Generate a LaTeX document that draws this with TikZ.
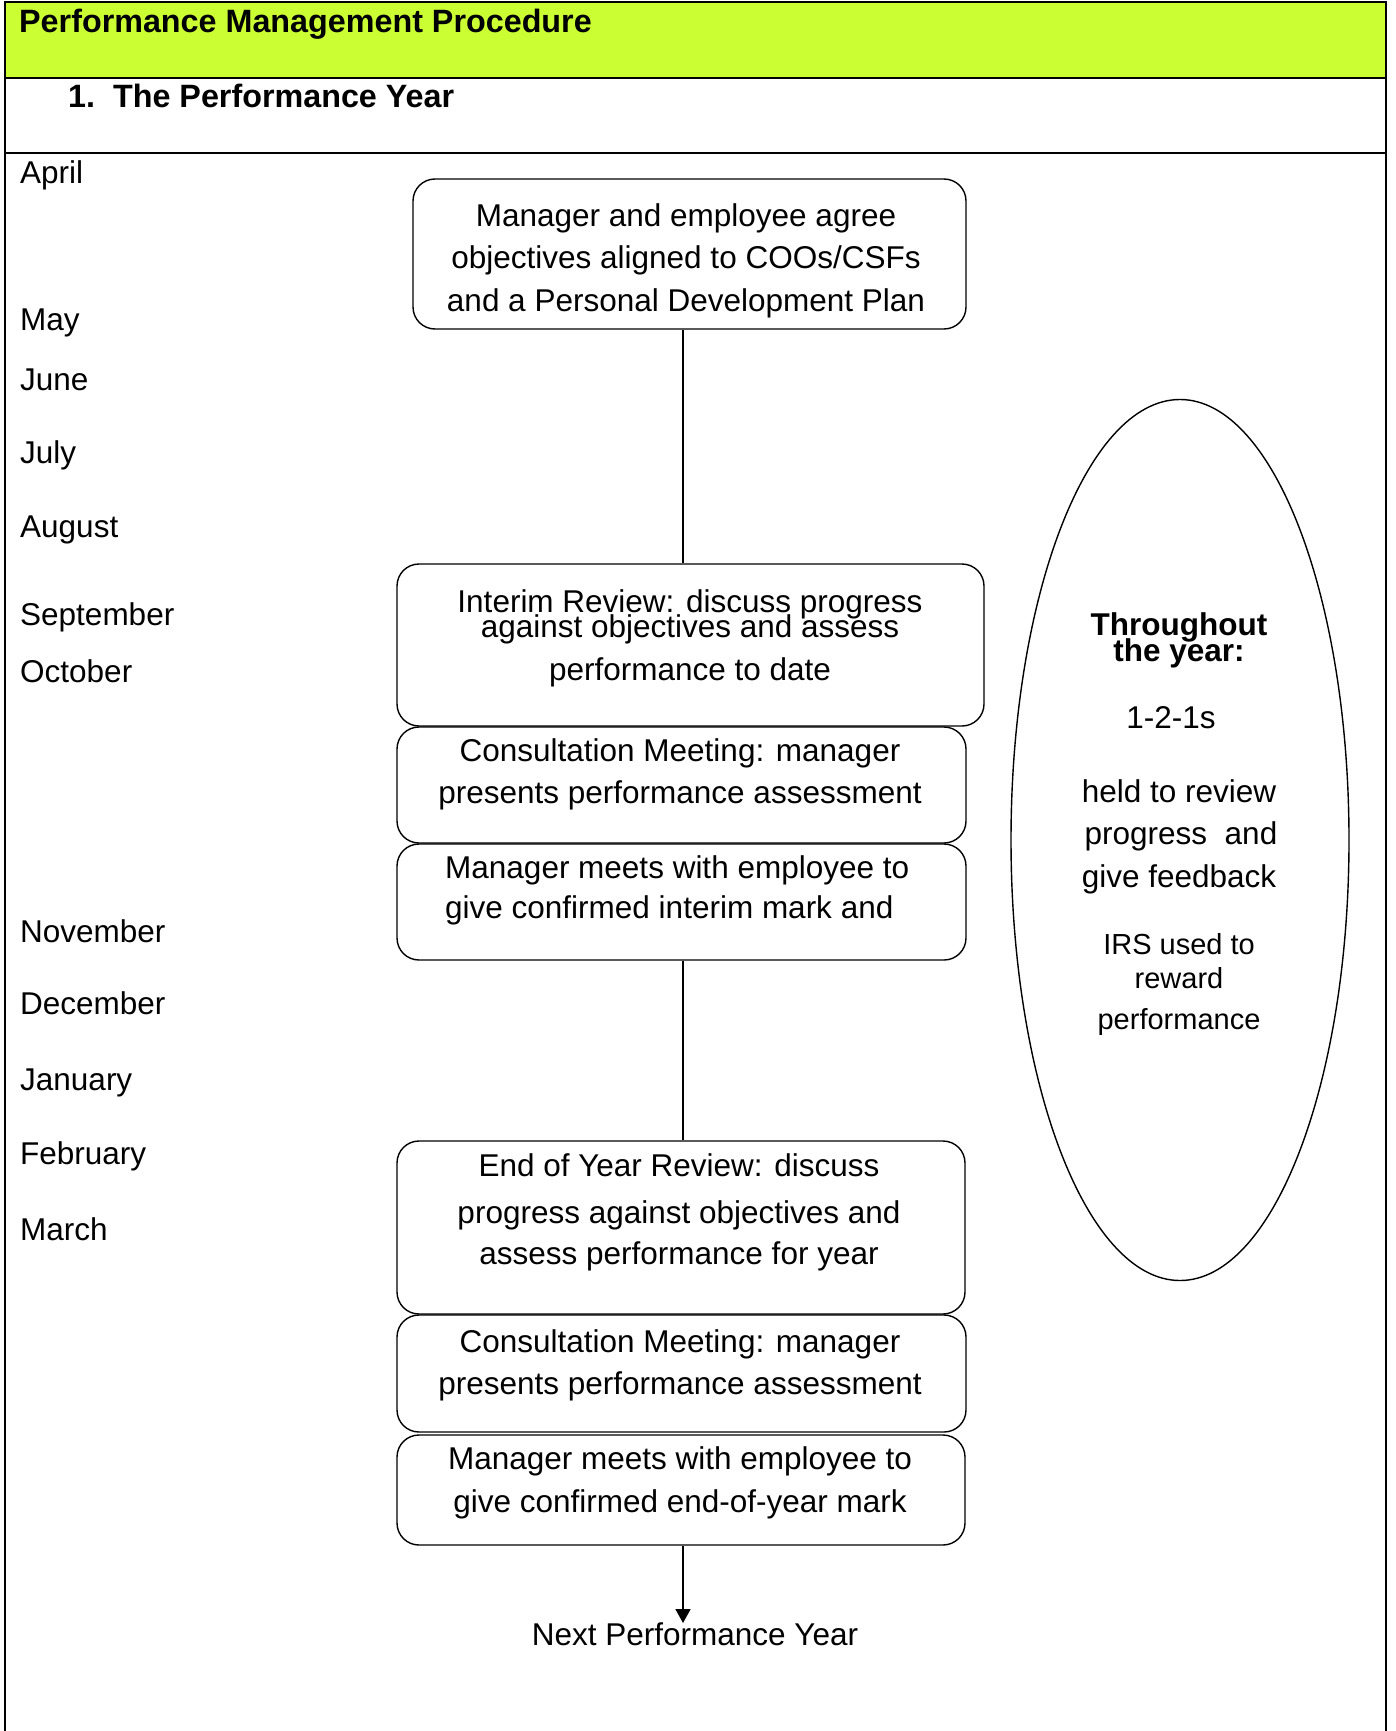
\documentclass[tikz,border=0pt]{standalone}
\usepackage{fontspec}
\setmainfont{Liberation Sans}
\usetikzlibrary{arrows.meta,shapes.geometric}
\definecolor{bandgreen}{RGB}{204,255,51}
\begin{document}
\begin{tikzpicture}[x=1pt,y=-1pt,
  txt/.style={inner sep=0pt,font=\fontsize{31.5}{36}\selectfont},
  smalltxt/.style={inner sep=0pt,font=\fontsize{29}{33}\selectfont},
  boldtxt/.style={inner sep=0pt,font=\fontsize{31.5}{36}\selectfont\bfseries},
  headtxt/.style={inner sep=0pt,font=\fontsize{32.3}{36}\selectfont\bfseries},
  stagebox/.style={draw,line width=1.4pt,rounded corners=22pt,inner sep=0pt},
  link/.style={line width=1.8pt},
  frameline/.style={line width=2pt}]
\useasboundingbox (0,0) rectangle (1395,1731);
% header
\fill[bandgreen] (5,2) rectangle (1386,78);
\draw[frameline] (5,1731) -- (5,2) -- (1386,2) -- (1386,1731);
\draw[frameline] (5,78) -- (1386,78);
\draw[frameline] (5,153) -- (1386,153);
\node[headtxt,anchor=base west] (title) at (19,33) {Performance Management Procedure};
\node[headtxt,anchor=base west] (sub) at (68,108) {1.\ \ The Performance Year};
% months
\foreach \m/\y [count=\i] in {April/183,May/330,June/390,July/463,August/537,September/625,October/682,November/942,December/1014,January/1090,February/1164,March/1240}
  \node[txt,anchor=base west] (m\i) at (20,\y) {\m};
% boxes
\node[stagebox,minimum width=553pt,minimum height=150pt] (b1) at (689.5,254) {};
\node[stagebox,minimum width=587pt,minimum height=162pt] (b2) at (690.5,645) {};
\node[stagebox,minimum width=569pt,minimum height=116pt] (b3) at (681.5,785) {};
\node[stagebox,minimum width=569pt,minimum height=116pt] (b4) at (681.5,902) {};
\node[stagebox,minimum width=568pt,minimum height=173pt] (b5) at (681,1227.5) {};
\node[stagebox,minimum width=569pt,minimum height=117pt] (b6) at (681.5,1373.5) {};
\node[stagebox,minimum width=568pt,minimum height=110pt] (b7) at (681,1490) {};
% box texts
\node[txt,anchor=base] (t1a) at (686,226) {Manager and employee agree};
\node[txt,anchor=base] (t1b) at (686,268) {objectives aligned to COOs/CSFs};
\node[txt,anchor=base] (t1c) at (686,311) {and a Personal Development Plan};
\node[txt,anchor=base] (t2a) at (690,612) {Interim Review: discuss progress};
\node[txt,anchor=base] (t2b) at (690,637) {against objectives and assess};
\node[txt,anchor=base] (t2c) at (690,680) {performance to date};
\node[txt,anchor=base] (t3a) at (680,761) {Consultation Meeting: manager};
\node[txt,anchor=base] (t3b) at (680,803) {presents performance assessment};
\node[txt,anchor=base west] (t4a) at (445,878) {Manager meets with employee to};
\node[txt,anchor=base west] (t4b) at (445,918) {give confirmed interim mark and};
\node[txt,anchor=base] (t5a) at (679,1176) {End of Year Review: discuss};
\node[txt,anchor=base] (t5b) at (679,1223) {progress against objectives and};
\node[txt,anchor=base] (t5c) at (679,1264) {assess performance for year};
\node[txt,anchor=base] (t6a) at (680,1352) {Consultation Meeting: manager};
\node[txt,anchor=base] (t6b) at (680,1394) {presents performance assessment};
\node[txt,anchor=base] (t7a) at (680,1469) {Manager meets with employee to};
\node[txt,anchor=base] (t7b) at (680,1512) {give confirmed end-of-year mark};
\node[txt,anchor=base] (next) at (695,1645) {Next Performance Year};
% connectors
\draw[link] (b1.south -| 683,0) -- (b2.north -| 683,0);
\draw[link] (b4.south -| 683,0) -- (b5.north -| 683,0);
\coordinate (tip) at (683,1623);
\draw[link,-{Triangle[width=15pt,length=14pt]}] (b7.south -| 683,0) -- (tip);
% ellipse
\node[draw,ellipse,line width=1.4pt,minimum width=338pt,minimum height=881pt,inner sep=0pt] (ell) at (1180,840) {};
\node[boldtxt,anchor=base] (e1) at (1179,635) {Throughout};
\node[boldtxt,anchor=base] (e2) at (1179,661) {the year:};
\node[txt,anchor=base] (e3) at (1171,728) {1-2-1s};
\node[txt,anchor=base] (e4) at (1179,802) {held to review};
\node[txt,anchor=base] (e5) at (1181,844) {progress\ \ and};
\node[txt,anchor=base] (e6) at (1179,887) {give feedback};
\node[smalltxt,anchor=base] (e7) at (1179,954) {IRS used to};
\node[smalltxt,anchor=base] (e8) at (1179,988) {reward};
\node[smalltxt,anchor=base] (e9) at (1179,1029) {performance};
\end{tikzpicture}
\end{document}
